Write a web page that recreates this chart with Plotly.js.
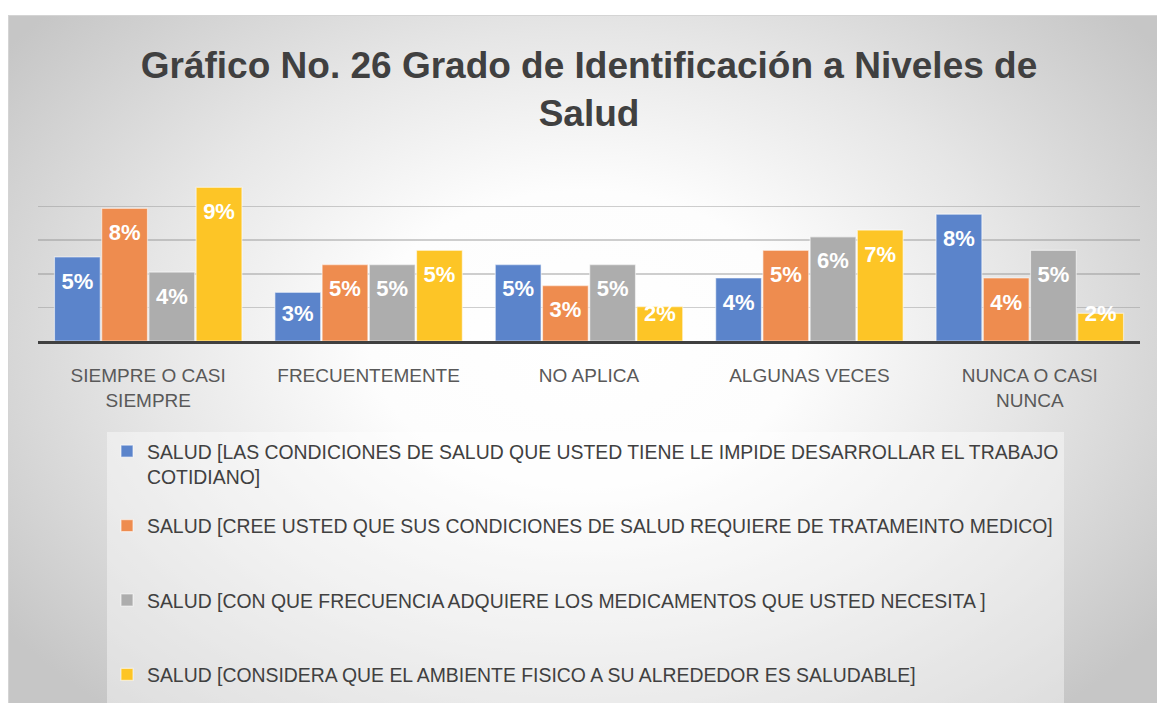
<!DOCTYPE html>
<html>
<head>
<meta charset="utf-8">
<script src="https://cdn.plot.ly/plotly-3.0.1.min.js"></script>
<style>
  html, body { margin: 0; padding: 0; background: #ffffff; }
  #bg {
    position: absolute; left: 8px; top: 15px; width: 1149px; height: 688px;
    border-top: 1px solid #d4d4d4; border-left: 1px solid #d4d4d4;
    background: radial-gradient(ellipse 62% 72% at 50% 47%, #ffffff 0%, #fdfdfd 30%, #e6e6e6 62%, #c6c6c6 100%);
  }
  #chart { position: absolute; left: 0; top: 0; width: 1157px; height: 703px; }
</style>
</head>
<body>
<div id="bg"></div>
<div id="chart"></div>
<script>
// ---- data ----
const categories = ["SIEMPRE O CASI<br>SIEMPRE", "FRECUENTEMENTE", "NO APLICA", "ALGUNAS VECES", "NUNCA O CASI<br>NUNCA"];
const seriesNames = [
  "SALUD [LAS CONDICIONES DE SALUD QUE USTED TIENE LE IMPIDE DESARROLLAR EL TRABAJO<br>COTIDIANO]",
  "SALUD [CREE USTED QUE SUS CONDICIONES DE SALUD REQUIERE DE TRATAMEINTO MEDICO]",
  "SALUD [CON QUE FRECUENCIA ADQUIERE LOS MEDICAMENTOS QUE USTED NECESITA ]",
  "SALUD [CONSIDERA QUE EL AMBIENTE FISICO A SU ALREDEDOR ES SALUDABLE]"
];
const serieCondiciones = [5.0, 2.9, 4.55, 3.75, 7.55];
const serieTratamiento = [7.9, 4.55, 3.3, 5.4, 3.75];
const serieMedicamentos = [4.1, 4.55, 4.55, 6.2, 5.4];
const serieAmbiente = [9.15, 5.4, 2.05, 6.6, 1.65];
const seriesValues = [serieCondiciones, serieTratamiento, serieMedicamentos, serieAmbiente];
const colors = ["#5b84cb", "#ee8c4f", "#adadad", "#fdc526"];

const BARGAP = 0.143;
const traces = [];
seriesValues.forEach((vals, i) => {
  const nm = seriesNames[i].includes("<br>") ? seriesNames[i] : seriesNames[i] + "<br> ";
  traces.push({
    type: "bar", x: categories, y: vals, name: nm,
    legendgroup: "g" + i,
    marker: { color: colors[i], line: { color: "rgba(255,255,255,0.55)", width: 1.2 } },
    hoverinfo: "skip"
  });
});
seriesValues.forEach((vals, i) => {
  traces.push({
    type: "scatter", mode: "text", x: categories,
    y: vals.map(v => Math.max(v - 1.55, 1.49)),
    text: vals.map(v => Math.round(v) + "%"),
    textposition: "middle center",
    textfont: { family: "Liberation Sans, Arial, sans-serif", size: 22, color: "#ffffff", weight: "bold" },
    showlegend: false, hoverinfo: "skip", cliponaxis: false
  });
});

const layout = {
  width: 1157, height: 703,
  paper_bgcolor: "rgba(0,0,0,0)", plot_bgcolor: "rgba(0,0,0,0)",
  margin: { l: 38, r: 17, t: 173, b: 362, autoexpand: false },
  barmode: "group", bargap: BARGAP, bargroupgap: 0.03,
  scattermode: "group", scattergap: BARGAP,
  title: {
    text: "<b>Gráfico No. 26 Grado de Identificación a Niveles de<br>Salud</b>",
    font: { family: "Liberation Sans, Arial, sans-serif", size: 37, color: "#404040" },
    xref: "paper", x: 0.5, xanchor: "center",
    yref: "container", y: 1 - 78 / 703, yanchor: "middle"
  },
  xaxis: {
    type: "category", showline: true, linecolor: "#404040", linewidth: 3,
    ticks: "", showgrid: false, ticklabelstandoff: 15,
    tickfont: { family: "Liberation Sans, Arial, sans-serif", size: 19, color: "#595959" }
  },
  yaxis: {
    range: [0, 10], dtick: 2, tick0: 0, showticklabels: false, ticks: "",
    showgrid: true, gridcolor: "rgba(140,140,140,0.42)", gridwidth: 1.6,
    zeroline: false, fixedrange: true
  },
  legend: {
    orientation: "v", x: (107 - 38) / 1102, xanchor: "left",
    y: (341 - 432) / 168, yanchor: "top",
    bgcolor: "rgba(255,255,255,0.42)", borderwidth: 0,
    traceorder: "grouped", tracegroupgap: 21, valign: "top",
    font: { family: "Liberation Sans, Arial, sans-serif", size: 19.4, color: "#404040" }
  },
  showlegend: true
};

Plotly.newPlot("chart", traces, layout, { displayModeBar: false, staticPlot: true });
</script>
</body>
</html>
